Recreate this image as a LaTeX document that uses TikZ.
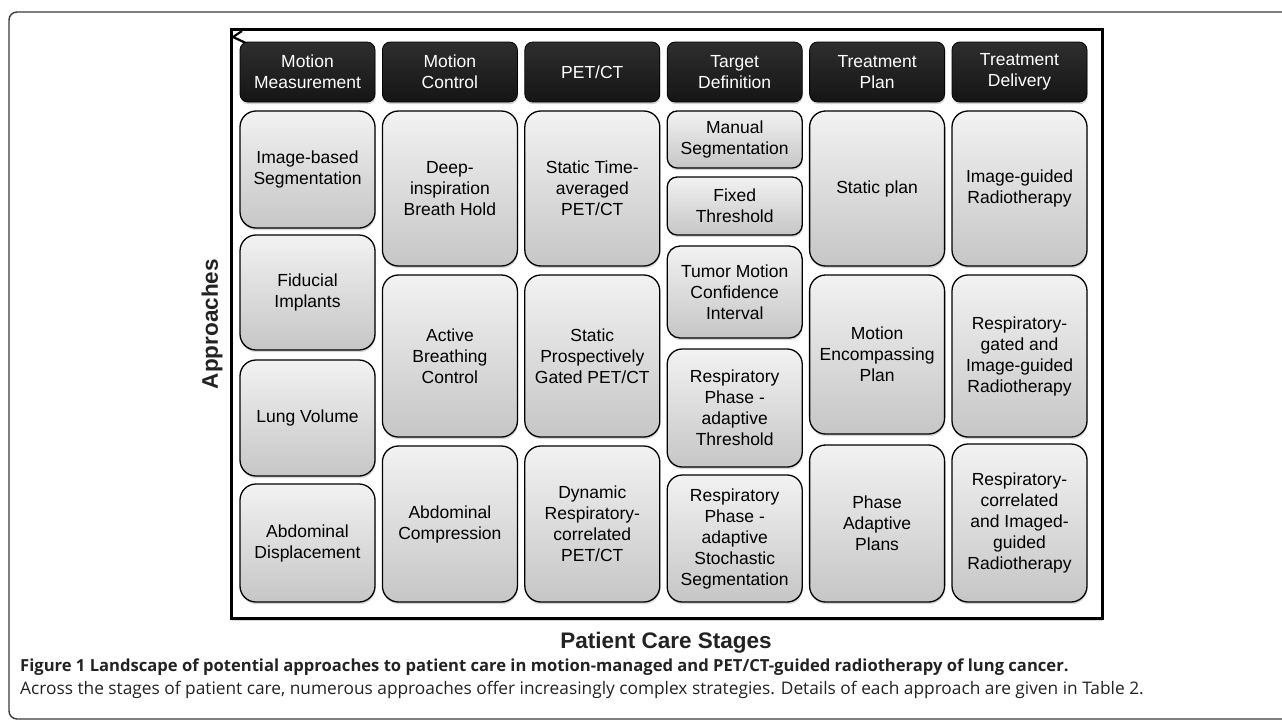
\documentclass[tikz,border=0pt]{standalone}
\usepackage{fontspec}
\setmainfont{Liberation Sans}
\newfontfamily\capfont{Open Sans}
\usetikzlibrary{positioning,shadows}

\definecolor{hdrtop}{HTML}{2E2E2E}
\definecolor{hdrbot}{HTML}{151515}
\definecolor{boxtop}{HTML}{F2F2F2}
\definecolor{boxbot}{HTML}{C6C6C6}
\definecolor{pageline}{HTML}{3A3A3A}
\definecolor{captext}{HTML}{222222}

\tikzset{
  stage/.style={rectangle, rounded corners=8pt, draw=black, line width=0.8pt,
    top color=hdrtop, bottom color=hdrbot, text=white,
    minimum width=135pt, minimum height=60pt, align=center,
    inner sep=2pt, outer sep=0pt, font=\fontsize{17.5}{21}\selectfont,
    drop shadow={shadow xshift=0.6pt, shadow yshift=-2.2pt, opacity=0.35}},
  approach/.style={rectangle, rounded corners=16pt, draw=black, line width=1.3pt,
    top color=boxtop, bottom color=boxbot,
    minimum width=135pt, align=center,
    inner sep=2pt, outer sep=0pt, font=\fontsize{17.5}{21}\selectfont,
    drop shadow={shadow xshift=0.6pt, shadow yshift=-2.2pt, opacity=0.3}},
}

\begin{document}
\begin{tikzpicture}[x=1pt, y=-1pt]
  \useasboundingbox (0,0) rectangle (1282,724);

  % page frame, open on the right
  \draw[pageline, line width=1.4pt, rounded corners=8pt] (1284,12) -- (9,12) -- (9,719) -- (1284,719);

  % landscape frame
  \draw[line width=3pt, fill=white, drop shadow={shadow xshift=0.6pt, shadow yshift=-2.5pt, opacity=0.3}] (231,29) rectangle (1102,618);
  \draw[line width=2.2pt] (242,31) -- (233,37) -- (248,44);

  % stages
  \node[stage, anchor=north west] (mmeas) at (240,42) {Motion\\Measurement};
  \node[stage, right=7.4pt of mmeas] (mctrl) {Motion\\Control};
  \node[stage, right=7.4pt of mctrl] (petct) {PET/CT};
  \node[stage, right=7.4pt of petct] (tdef) {Target\\Definition};
  \node[stage, right=7.4pt of tdef] (tplan) {Treatment\\Plan};
  \node[stage, right=7.4pt of tplan] (tdel) {Treatment\\Delivery};

  % motion measurement
  \node[approach, minimum height=117pt, below=9pt of mmeas] (imgseg) {Image-based\\Segmentation};
  \node[approach, minimum height=115pt, below=7pt of imgseg] (fiduc) {Fiducial\\Implants};
  \node[approach, minimum height=116pt, below=10pt of fiduc] (lungvol) {Lung Volume};
  \node[approach, minimum height=118pt, below=8pt of lungvol] (abdisp) {Abdominal\\Displacement};

  % motion control
  \node[approach, minimum height=155pt, below=9pt of mctrl] (dibh) {Deep-\\inspiration\\Breath Hold};
  \node[approach, minimum height=162pt, below=9pt of dibh] (abc) {Active\\Breathing\\Control};
  \node[approach, minimum height=156pt, below=9pt of abc] (abcomp) {Abdominal\\Compression};

  % PET/CT
  \node[approach, minimum height=155pt, below=9pt of petct] (stavg) {Static Time-\\averaged\\PET/CT};
  \node[approach, minimum height=162pt, below=9pt of stavg] (stgate) {Static\\Prospectively\\Gated PET/CT};
  \node[approach, minimum height=156pt, below=9pt of stgate] (dynpet) {Dynamic\\Respiratory-\\correlated\\PET/CT};

  % target definition
  \node[approach, rounded corners=10pt, minimum height=57pt, below=9pt of tdef] (manseg) {Manual\\Segmentation};
  \node[approach, rounded corners=10pt, minimum height=58pt, below=9pt of manseg] (fixthr) {Fixed\\Threshold};
  \node[approach, rounded corners=13pt, minimum height=92pt, below=11pt of fixthr] (tmci) {Tumor Motion\\Confidence\\Interval};
  \node[approach, rounded corners=15pt, minimum height=118pt, below=11pt of tmci] (rpathr) {Respiratory\\Phase -\\adaptive\\Threshold};
  \node[approach, rounded corners=15pt, minimum height=127pt, below=8pt of rpathr] (rpastoch) {Respiratory\\Phase -\\adaptive\\Stochastic\\Segmentation};

  % treatment plan
  \node[approach, minimum height=155pt, below=9pt of tplan] (stplan) {Static plan};
  \node[approach, minimum height=159pt, below=9pt of stplan] (encplan) {Motion\\Encompassing\\Plan};
  \node[approach, minimum height=157pt, below=11pt of encplan] (phplan) {Phase\\Adaptive\\Plans};

  % treatment delivery
  \node[approach, minimum height=155pt, below=9pt of tdel] (igrt) {Image-guided\\Radiotherapy};
  \node[approach, minimum height=162pt, below=9pt of igrt] (gated) {Respiratory-\\gated and\\Image-guided\\Radiotherapy};
  \node[approach, minimum height=158pt, below=7pt of gated] (correl) {Respiratory-\\correlated\\and Imaged-\\guided\\Radiotherapy};

  % axis labels
  \node[rotate=90, text=captext, font=\bfseries\fontsize{22.5}{27}\selectfont] (approaches) at (212,324) {Approaches};
  \node[anchor=base, text=captext, font=\bfseries\fontsize{22.5}{27}\selectfont] (stages) at (666,648) {Patient Care Stages};

  % caption
  \node[anchor=base west, inner sep=0pt, text=captext, font=\capfont\bfseries\fontsize{16.6}{20}\selectfont] (capa) at (20,671) {Figure 1 Landscape of potential approaches to patient care in motion-managed and PET/CT-guided radiotherapy of lung cancer.};
  \node[anchor=base west, inner sep=0pt, text=captext, font=\capfont\fontsize{17.3}{20}\selectfont] (capb) at (20,694) {Across the stages of patient care, numerous approaches offer increasingly complex strategies. Details of each approach are given in Table 2.};
\end{tikzpicture}
\end{document}
